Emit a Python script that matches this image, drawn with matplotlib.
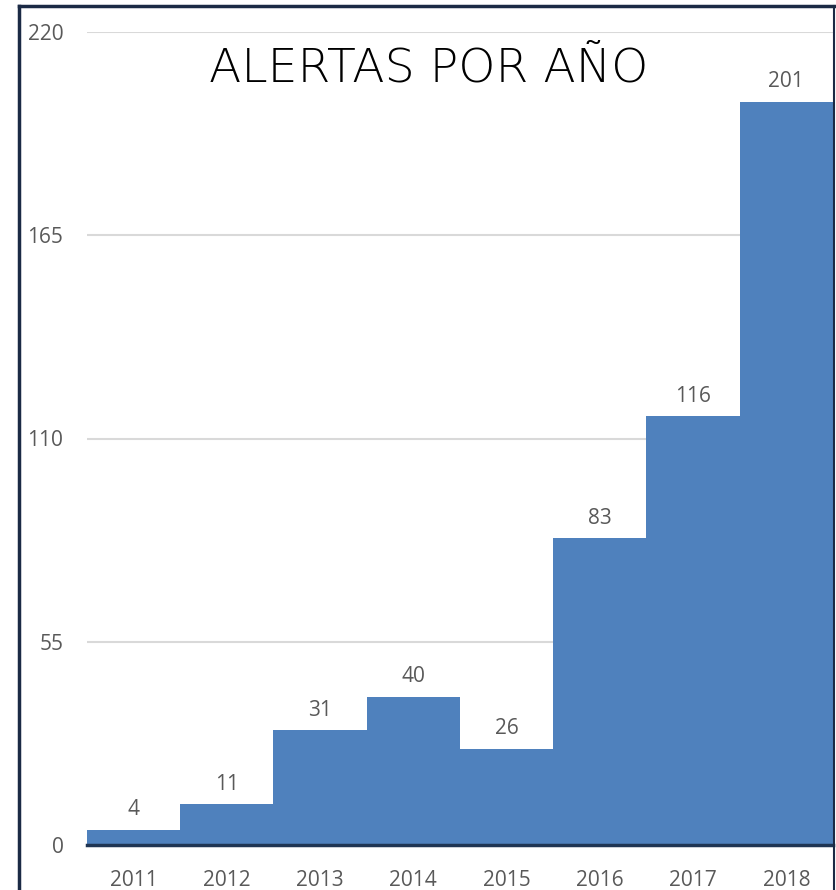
import matplotlib
matplotlib.use("Agg")
import matplotlib.pyplot as plt
from matplotlib.lines import Line2D

years = ["2011", "2012", "2013", "2014", "2015", "2016", "2017", "2018"]
alerts = [4, 11, 31, 40, 26, 83, 116, 201]
yticks = [0, 55, 110, 165, 220]
title = "ALERTAS POR AÑO"

W, H = 837, 890
fig = plt.figure(figsize=(W / 100, H / 100), dpi=100)
ax = fig.add_axes([87 / W, 45 / H, 746 / W, 813 / H])

x = list(range(len(years)))
ax.bar(x, alerts, width=1.0, color="#4F81BD", edgecolor="none", zorder=2)
ax.set_xlim(-0.5, len(years) - 0.5)
ax.set_ylim(0, 220)
ax.set_yticks(yticks)
ax.set_xticks(x)
ax.set_xticklabels(years)
ax.yaxis.grid(True, color="#D9D9D9", linewidth=1.5, zorder=0)
ax.set_axisbelow(True)
for s in ["top", "right", "left"]:
    ax.spines[s].set_visible(False)
ax.spines["bottom"].set_color("#1F3553")
ax.spines["bottom"].set_linewidth(2.5)
ax.spines["bottom"].set_zorder(3)
ax.tick_params(axis="both", length=0, labelsize=15, labelcolor="#595959")
ax.tick_params(axis="y", pad=17)
ax.tick_params(axis="x", pad=18)
for lab in ax.get_xticklabels() + ax.get_yticklabels():
    lab.set_family("Open Sans")

for xi, v in zip(x, alerts):
    ax.annotate(str(v), (xi, v), xytext=(0, 7), textcoords="offset points",
                ha="center", va="bottom", fontsize=15, color="#595959",
                family="Open Sans")

fig.text(429 / W, 1 - 68 / H, title, ha="center", va="center", fontsize=34,
         color="black", family="DejaVu Sans", weight="light")

# frame border
c = "#1B2A45"
fig.add_artist(Line2D([19 / W, 19 / W], [0, 1 - 6 / H], color=c, lw=2.5, transform=fig.transFigure))
fig.add_artist(Line2D([19 / W, 834 / W], [1 - 6 / H, 1 - 6 / H], color=c, lw=2.5, transform=fig.transFigure))
fig.add_artist(Line2D([834 / W, 834 / W], [0, 1 - 6 / H], color=c, lw=1.5, transform=fig.transFigure))

fig.savefig("out.png", dpi=100)
